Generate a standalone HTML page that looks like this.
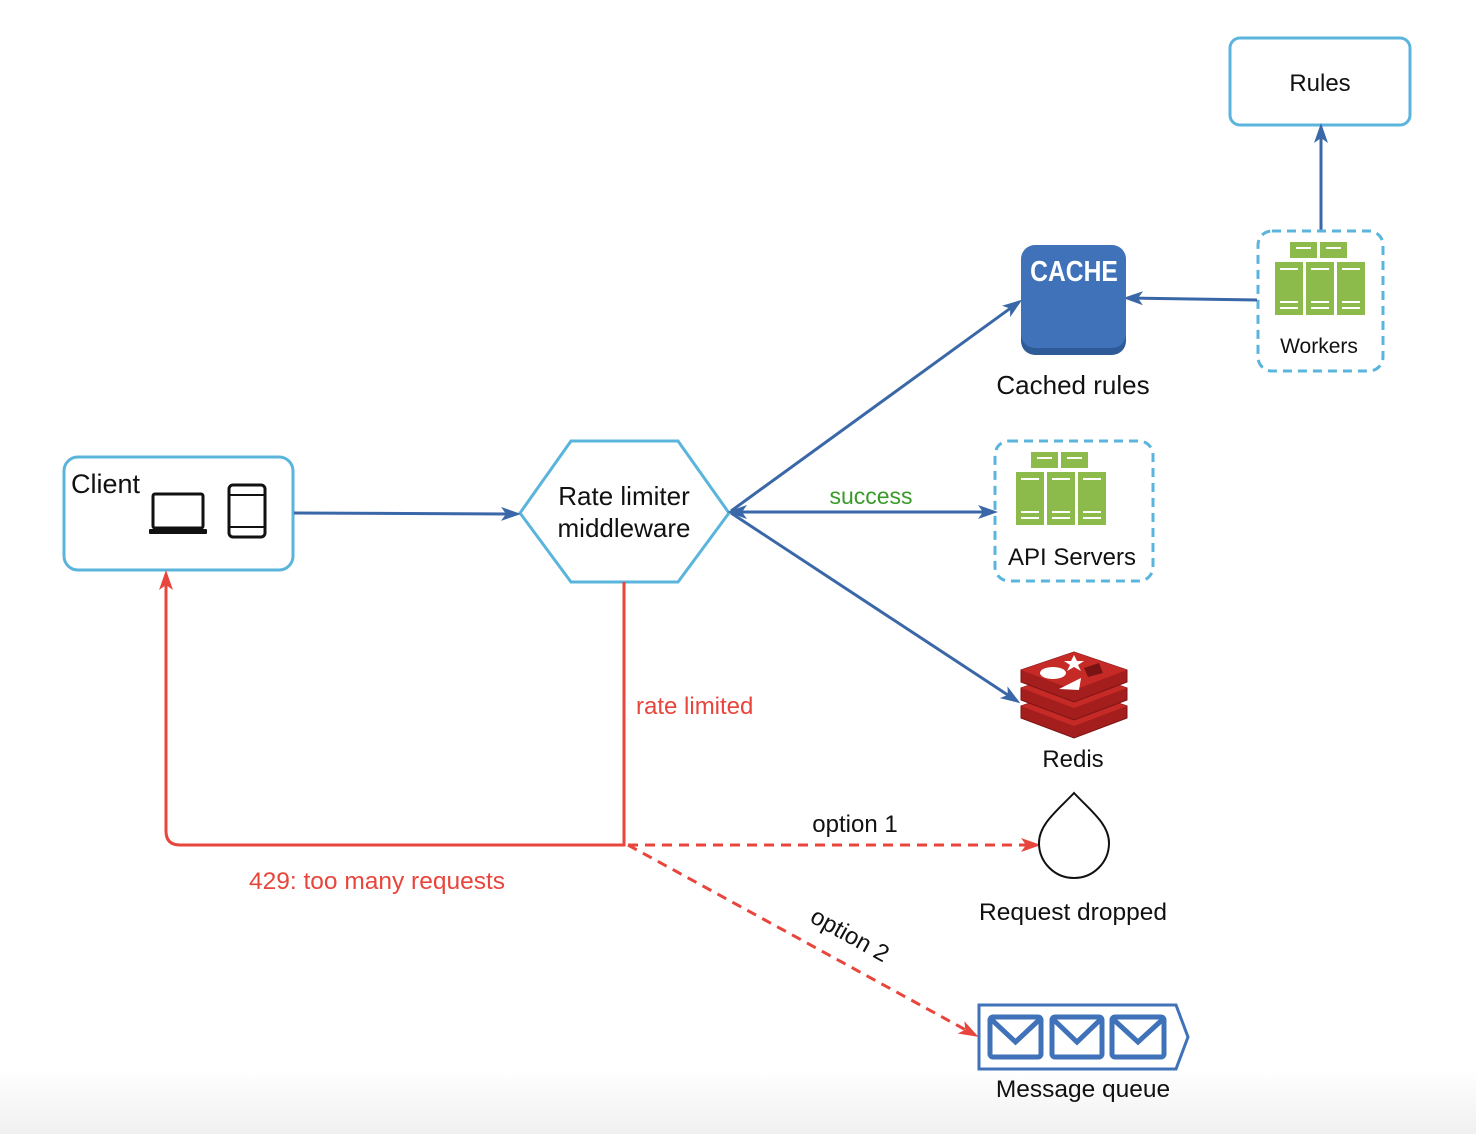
<!DOCTYPE html>
<html><head><meta charset="utf-8"><style>
html,body{margin:0;padding:0;background:#fff;}
body{width:1476px;height:1134px;overflow:hidden;background:linear-gradient(to bottom,#fff 0,#fff 1070px,#f0f0f0 1134px);}
svg{display:block;font-family:"Liberation Sans",Arial,sans-serif;}
</style></head><body>
<svg width="1476" height="1134" viewBox="0 0 1476 1134">
<defs>
<marker id="ab" viewBox="0 0 20 14" refX="16" refY="7" markerWidth="20" markerHeight="14" orient="auto-start-reverse" markerUnits="userSpaceOnUse">
<path d="M0,0 L20,7 L0,14 L5,7 Z" fill="#3a67a8"/>
</marker>
<marker id="ar" viewBox="0 0 20 14" refX="16" refY="7" markerWidth="20" markerHeight="14" orient="auto" markerUnits="userSpaceOnUse">
<path d="M0,0 L20,7 L0,14 L5,7 Z" fill="#e8453c"/>
</marker>
<g id="srv">
<rect x="15" y="0" width="27" height="16" fill="#8cbb4c"/><rect x="45" y="0" width="27" height="16" fill="#8cbb4c"/>
<rect x="0" y="20" width="28" height="53" fill="#8cbb4c"/><rect x="31" y="20" width="28" height="53" fill="#8cbb4c"/><rect x="62" y="20" width="28" height="53" fill="#8cbb4c"/>
<g stroke="#fff" stroke-width="2"><line x1="21" y1="6" x2="36" y2="6"/><line x1="51" y1="6" x2="66" y2="6"/>
<line x1="5" y1="27" x2="23" y2="27"/><line x1="36" y1="27" x2="54" y2="27"/><line x1="67" y1="27" x2="85" y2="27"/>
<line x1="5" y1="60" x2="23" y2="60"/><line x1="36" y1="60" x2="54" y2="60"/><line x1="67" y1="60" x2="85" y2="60"/>
<line x1="5" y1="66" x2="23" y2="66"/><line x1="36" y1="66" x2="54" y2="66"/><line x1="67" y1="66" x2="85" y2="66"/></g>
</g>
<g id="rl">
<path d="M0,18 L53,0 L106,18 L106,30 L53,50 L0,30 Z" fill="#a41e1e" stroke="#7e1414" stroke-width="1"/>
<path d="M0,18 L53,0 L106,18 L53,38 Z" fill="#c62a26"/>
</g>
</defs>

<!-- Rules -->
<rect x="1230" y="38" width="180" height="87" rx="10" fill="#fff" stroke="#5ab4dc" stroke-width="3"/>
<text x="1320" y="91" font-size="24" text-anchor="middle" fill="#111">Rules</text>
<line x1="1321" y1="230" x2="1321" y2="127" stroke="#3a67a8" stroke-width="3" marker-end="url(#ab)"/>

<!-- Workers -->
<rect x="1258" y="231" width="125" height="140" rx="14" fill="none" stroke="#5ab4dc" stroke-width="3" stroke-dasharray="9,6"/>
<use href="#srv" x="1275" y="242"/>
<text x="1319" y="353" font-size="21" text-anchor="middle" fill="#111">Workers</text>
<line x1="1257" y1="300" x2="1127" y2="298" stroke="#3a67a8" stroke-width="3" marker-end="url(#ab)"/>

<!-- Cache -->
<rect x="1021" y="250" width="105" height="105" rx="14" fill="#2e5a97"/>
<rect x="1021" y="245" width="105" height="103" rx="14" fill="#3f72b8"/>
<text x="1074" y="281" font-size="29" font-weight="bold" text-anchor="middle" fill="#fff" transform="translate(1074,0) scale(0.85,1) translate(-1074,0)">CACHE</text>
<text x="1073" y="394" font-size="26" text-anchor="middle" fill="#111">Cached rules</text>

<!-- API servers -->
<rect x="995" y="441" width="158" height="140" rx="14" fill="none" stroke="#5ab4dc" stroke-width="3" stroke-dasharray="9,6"/>
<use href="#srv" x="1016" y="452"/>
<text x="1072" y="565" font-size="24" text-anchor="middle" fill="#111">API Servers</text>

<!-- Client -->
<rect x="64" y="457" width="229" height="113" rx="14" fill="#fff" stroke="#5ab4dc" stroke-width="3"/>
<text x="71" y="493" font-size="27" fill="#111">Client</text>
<rect x="153" y="494" width="50" height="34" rx="2" fill="none" stroke="#111" stroke-width="3"/>
<rect x="149" y="529" width="58" height="5" rx="1" fill="#111"/>
<rect x="229" y="485" width="36" height="52" rx="4" fill="none" stroke="#111" stroke-width="3"/>
<line x1="230" y1="495" x2="264" y2="495" stroke="#111" stroke-width="2"/>
<line x1="230" y1="527" x2="264" y2="527" stroke="#111" stroke-width="2"/>

<!-- Hexagon -->
<polygon points="520,513 571,441 678,441 729,513 678,582 571,582" fill="#fff" stroke="#5ab4dc" stroke-width="3"/>
<text x="624" y="505" font-size="26" text-anchor="middle" fill="#111">Rate limiter</text>
<text x="624" y="537" font-size="26" text-anchor="middle" fill="#111">middleware</text>

<!-- blue connectors -->
<line x1="294" y1="513" x2="517" y2="514" stroke="#3a67a8" stroke-width="3" marker-end="url(#ab)"/>
<line x1="731" y1="511" x2="1019" y2="302" stroke="#3a67a8" stroke-width="3" marker-end="url(#ab)"/>
<line x1="731" y1="512" x2="994" y2="512" stroke="#3a67a8" stroke-width="3" marker-start="url(#ab)" marker-end="url(#ab)"/>
<line x1="731" y1="513" x2="1017" y2="701" stroke="#3a67a8" stroke-width="3" marker-end="url(#ab)"/>
<text x="871" y="504" font-size="23" text-anchor="middle" fill="#3a9a2a">success</text>

<!-- red connectors -->
<path d="M624,582 L624,845 L180,845 Q166,845 166,831 L166,574" fill="none" stroke="#e8453c" stroke-width="3" marker-end="url(#ar)"/>
<text x="636" y="714" font-size="24" fill="#e8453c">rate limited</text>
<text x="377" y="889" font-size="24.5" text-anchor="middle" fill="#e8453c">429: too many requests</text>
<line x1="628" y1="845" x2="1037" y2="845" stroke="#e8453c" stroke-width="3" stroke-dasharray="10,7" marker-end="url(#ar)"/>
<text x="855" y="832" font-size="24" text-anchor="middle" fill="#111">option 1</text>
<line x1="628" y1="845" x2="975" y2="1035" stroke="#e8453c" stroke-width="3" stroke-dasharray="10,7" marker-end="url(#ar)"/>
<text x="850" y="943" font-size="24" text-anchor="middle" fill="#111" transform="rotate(29 850 935)">option 2</text>

<!-- Redis -->
<use href="#rl" x="1021" y="688"/>
<use href="#rl" x="1021" y="670"/>
<use href="#rl" x="1021" y="652"/>
<ellipse cx="1053" cy="673" rx="13" ry="6" fill="#fff"/>
<polygon points="1074,655 1077,661 1084,661 1078,665 1081,671 1074,667 1067,671 1070,665 1064,661 1071,661" fill="#fff"/>
<polygon points="1084,668 1099,663 1103,673 1088,677" fill="#7a1414"/>
<polygon points="1059,689 1081,678 1079,690" fill="#fff"/>
<text x="1073" y="767" font-size="24" text-anchor="middle" fill="#111">Redis</text>

<!-- Drop -->
<path d="M1074,793 C1090,810 1109,824 1109,843 A35,35 0 1 1 1039,843 C1039,824 1058,810 1074,793 Z" fill="#fff" stroke="#111" stroke-width="2"/>
<text x="1073" y="920" font-size="24.5" text-anchor="middle" fill="#111">Request dropped</text>

<!-- Message queue -->
<path d="M979,1005 L1176,1005 L1188,1037 L1176,1069 L979,1069 Z" fill="#fff" stroke="#3f72b8" stroke-width="3"/>
<g fill="none" stroke="#3f72b8" stroke-width="5">
<rect x="990" y="1017" width="51" height="40" rx="3"/><path d="M992,1020 L1015.5,1042 L1039,1020"/>
<rect x="1052" y="1017" width="50" height="40" rx="3"/><path d="M1054,1020 L1077,1042 L1100,1020"/>
<rect x="1112" y="1017" width="52" height="40" rx="3"/><path d="M1114,1020 L1138,1042 L1162,1020"/>
</g>
<text x="1083" y="1097" font-size="24.5" text-anchor="middle" fill="#111">Message queue</text>
</svg>
</body></html>
